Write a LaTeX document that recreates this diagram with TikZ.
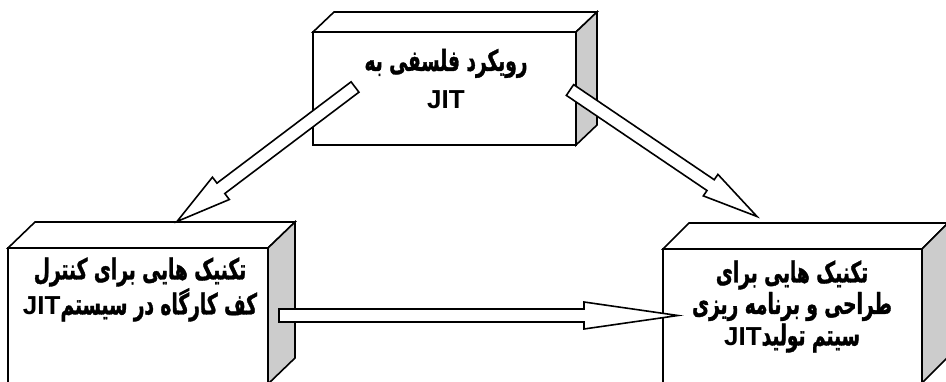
\documentclass[tikz,border=0pt]{standalone}
\usepackage{fontspec}
\setmainfont{Liberation Sans}
\newfontfamily\arabicfont[Script=Arabic, FakeStretch=0.64, BoldFeatures={FakeBold=1.2}]{DejaVu Sans}
\TeXXeTstate=1
\usetikzlibrary{calc}
\definecolor{sidegray}{RGB}{204,204,204}
\newcommand\cuboid[6]{% name, center, width, height, dx, dy
  \node[front, minimum width=#3, minimum height=#4] (#1) at #2 {};
  \draw[edge, fill=white] (#1.north west) -- ++(#5,-#6) -- ($(#1.north east)+(#5,-#6)$) -- (#1.north east) -- cycle;
  \draw[edge, fill=sidegray] (#1.north east) -- ++(#5,-#6) -- ($(#1.south east)+(#5,-#6)$) -- (#1.south east) -- cycle;
}
\newcommand\blockarrow[5]{% tail, tip, shaft half, head half, head length
  \coordinate (hb) at ($(#2)!#5!(#1)$);
  \draw[edge, fill=white] ($(#1)!#3!90:(#2)$) -- ($(hb)!#3!90:(#2)$) -- ($(hb)!#4!90:(#2)$) -- (#2)
    -- ($(hb)!#4!-90:(#2)$) -- ($(hb)!#3!-90:(#2)$) -- ($(#1)!#3!-90:(#2)$) -- cycle;
}
\newcommand\jitword[1]{\beginL\rmfamily\bfseries\fontsize{26}{#1}\selectfont JIT\endL}
\begin{document}
\begin{tikzpicture}[x=1pt,y=-1pt,
  edge/.style={line width=1.6pt, line join=miter},
  front/.style={draw, line width=1.6pt, fill=white, inner sep=0pt, outer sep=0pt},
  txt/.style={align=center, inner sep=0pt, font=\bfseries}]
\useasboundingbox (0,0) rectangle (946,381);
\clip (0,0) rectangle (946,381);
\fill[white] (0,0) rectangle (946,381);
% boxes
\cuboid{topbox}{(444.5,88.5)}{263pt}{113pt}{21}{20}
\cuboid{leftbox}{(138,316)}{260pt}{136pt}{27}{26}
\cuboid{rightbox}{(792.5,316)}{259pt}{134pt}{26}{26}
% texts
\node[txt, font=\bfseries\fontsize{29}{38}\selectfont] (toptext) at (446,79)
  {\arabicfont\beginR رویکرد فلسفی به\endR\\ \jitword{38}};
\node[txt, font=\bfseries\fontsize{29}{35}\selectfont] (lefttext) at (140,289.5)
  {\arabicfont\beginR تکنیک هایی برای کنترل\endR\\
   \arabicfont\beginR کف کارگاه در سیستم\jitword{35}\endR};
\node[txt, font=\bfseries\fontsize{29}{31.5}\selectfont] (righttext) at (792,306.5)
  {\arabicfont\beginR تکنیک هایی برای\endR\\
   \arabicfont\beginR طراحی و برنامه ریزی\endR\\
   \arabicfont\beginR سیتم تولید\jitword{31.5}\endR};
% arrows
\coordinate (a1t) at (355,87);
\coordinate (a1h) at (177,221.5);
\coordinate (a2t) at (570,90);
\coordinate (a2h) at (757,216.5);
\coordinate (a3t) at (279,315.5);
\coordinate (a3h) at (678,315.5);
\blockarrow{a1t}{a1h}{6.5pt}{14pt}{55pt}
\blockarrow{a2t}{a2h}{6.5pt}{13pt}{56pt}
\blockarrow{a3t}{a3h}{6.5pt}{13.5pt}{94pt}
\end{tikzpicture}
\end{document}
